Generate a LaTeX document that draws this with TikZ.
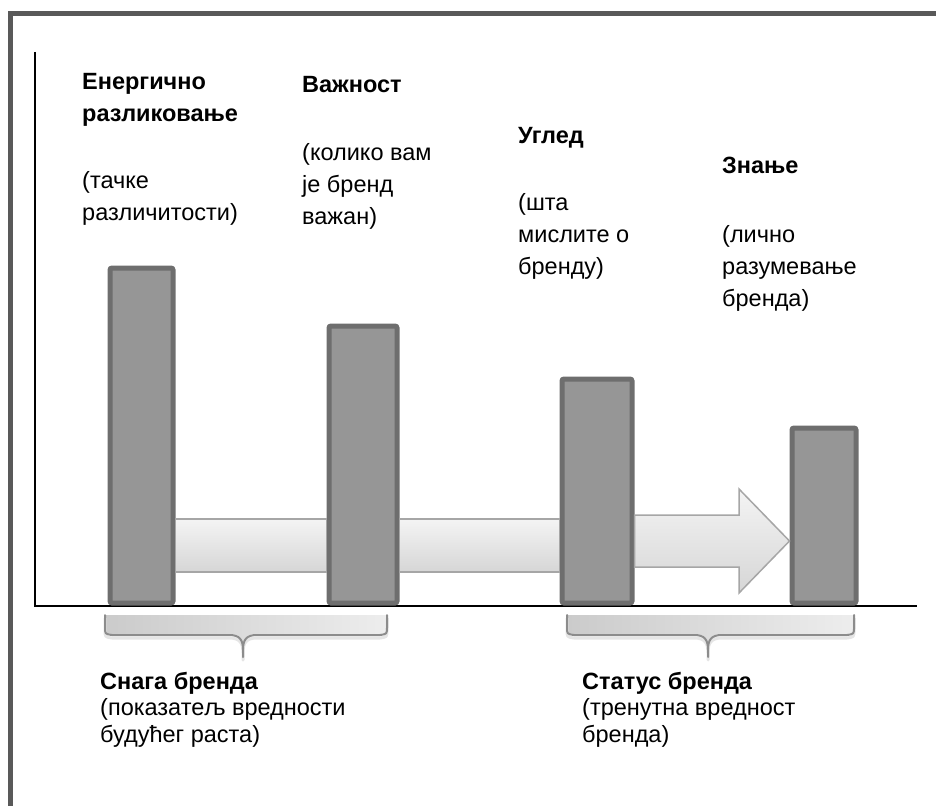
\documentclass[tikz,border=0pt]{standalone}
\usepackage{fontspec}
\setmainfont{Liberation Sans}
\usetikzlibrary{positioning}
\definecolor{frameline}{HTML}{595959}
\definecolor{barfill}{HTML}{969696}
\definecolor{barline}{HTML}{6E6E6E}
\definecolor{linkline}{HTML}{A6A6A6}
\definecolor{linktop}{HTML}{F4F4F4}
\definecolor{linkbot}{HTML}{D6D6D6}
\definecolor{braceleft}{HTML}{CBCBCB}
\definecolor{braceright}{HTML}{EDEDED}
\definecolor{braceline}{HTML}{8C8C8C}
\newcommand{\firstline}{\rule{0pt}{22pt}}
\newcommand{\bracepath}[3]{(#1,615) -- (#1,627) .. controls (#1,634) .. (#1+7,635)
    -- (#2-14,635) .. controls (#2-3,635) and (#2,640) .. (#2,650) -- (#2,657)
    -- (#2,650) .. controls (#2,640) and (#2+3,635) .. (#2+14,635)
    -- (#3-7,635) .. controls (#3,634) .. (#3,627) -- (#3,615)}
\begin{document}
\begin{tikzpicture}[x=1pt,y=-1pt,
  bar/.style={draw=barline,fill=barfill,line width=5pt,rounded corners=2pt,inner sep=0pt,anchor=south west},
  link/.style={draw=linkline,line width=1.5pt,top color=linktop,bottom color=linkbot},
  brace/.style={draw=braceline,line width=2pt,line cap=round,line join=round},
  lbl/.style={anchor=north west,align=left,inner sep=0pt,font=\fontsize{23.5}{32}\selectfont},
  note/.style={lbl,font=\fontsize{23.5}{26.7}\selectfont}]
\clip (0,0) rectangle (936,805);
\draw[frameline,line width=5pt] (10.5,13.5) rectangle (1000,900);
% axes
\coordinate (ytop) at (35,52);
\coordinate (orig) at (35,606);
\coordinate (xend) at (917,606);
\draw[line width=1.5pt] (ytop) -- (orig) -- (xend);
% bars
\foreach \name/\x/\w/\h in {b1/107.5/63/335,b2/326.5/68/277,b3/559.5/70/224,b4/789.5/64/175}
  \node[bar,minimum width=\w pt,minimum height=\h pt] (\name) at (\x,605.5) {};
% links between bars
\draw[link] (b1.east |- 0,519) rectangle (b2.west |- 0,572);
\draw[link] (b2.east |- 0,519) rectangle (b3.west |- 0,572);
\draw[link] (b3.east |- 0,515) -- (739,515) -- (739,489) -- (b4.west |- 0,541)
  -- (739,593) -- (739,567) -- (b3.east |- 0,567) -- cycle;
% braces
\foreach \l/\m/\r in {105/243/387,567/708/854}{
  \fill[left color=braceleft,right color=braceright] \bracepath{\l}{\m}{\r} -- cycle;
  \draw[black!10,line width=3pt,line join=round,yshift=-3pt] \bracepath{\l}{\m}{\r};
  \draw[brace] \bracepath{\l}{\m}{\r};
}
% labels (first baseline 22pt below the given point)
\node[lbl] (t1) at (82,67) {\firstline\textbf{Енергично}\\\textbf{разликовање}\\[35pt](тачке\\различитости)};
\node[lbl] (t2) at (302,70) {\firstline\textbf{Важност}\\[36pt](колико вам\\је бренд\\важан)};
\node[lbl] (t3) at (518,121) {\firstline\textbf{Углед}\\[35pt](шта\\мислите о\\бренду)};
\node[lbl] (t4) at (722,151) {\firstline\textbf{Знање}\\[37pt](лично\\разумевање\\бренда)};
\node[note] (n1) at (100,667) {\firstline\textbf{Снага бренда}\\(показатељ вредности\\будућег раста)};
\node[note] (n2) at (582,667) {\firstline\textbf{Статус бренда}\\(тренутна вредност\\бренда)};
\end{tikzpicture}
\end{document}
